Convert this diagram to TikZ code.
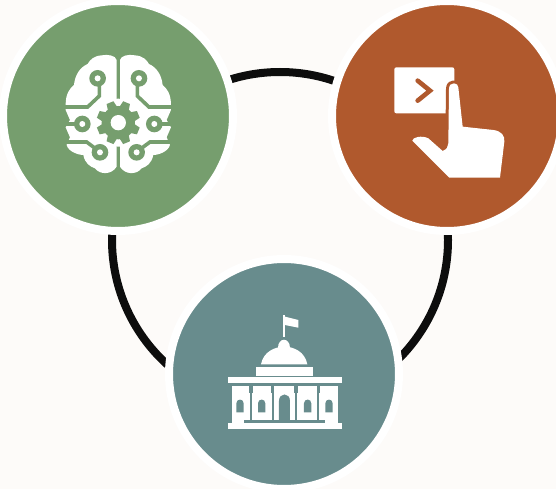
\documentclass[tikz,border=0pt]{standalone}
\definecolor{bgc}{HTML}{FDFBF9}
\definecolor{greenc}{HTML}{769E6E}
\definecolor{orangec}{HTML}{B0592D}
\definecolor{tealc}{HTML}{688C8D}
\definecolor{ringc}{HTML}{0D0D0D}
\tikzset{
  disc/.style={circle,minimum size=230pt,inner sep=0pt,outer sep=0pt,draw=white,line width=8pt},
  trace/.style={greenc,line width=3.6pt},
}
\newcommand{\brainhalf}{%
  \fill[white] (-5,60) .. controls (-8,47) and (-30,42) .. (-50,46) .. controls (-75,48) and (-85,60) .. (-92,72)
     .. controls (-115,82) and (-130,105) .. (-133,135) .. controls (-145,145) and (-158,160) .. (-158,195)
     -- (-158,210) -- (-145,240) -- (-158,262) -- (-145,292) -- (-155,315)
     .. controls (-150,335) and (-120,345) .. (-105,345) .. controls (-100,370) and (-85,380) .. (-70,385)
     .. controls (-55,405) and (-20,405) .. (-5,380) -- cycle;
  \draw[trace] (-165,201) -- (-92,201) -- (-57,168) -- (-57,125);
  \draw[trace] (-165,252) -- (-115,252);
  \draw[trace] (-165,306) -- (-95,306) -- (-60,332);
  \fill[greenc] (-62,115) circle (25);
  \fill[white] (-62,115) circle (9);
  \fill[greenc] (-108,252) circle (25);
  \fill[white] (-108,252) circle (9);
  \fill[greenc] (-55,337) circle (25);
  \fill[white] (-55,337) circle (9);
}
\begin{document}
\begin{tikzpicture}[x=1pt,y=-1pt]
\useasboundingbox (0,0) rectangle (556,489);
\fill[bgc] (0,0) rectangle (556,489);
\coordinate (hub) at (280,240);
\draw[ringc,line width=8pt] (hub) circle (168);
\begin{scope}
\clip (0,0) rectangle (556,489);
\node[disc,fill=greenc] (brain) at (118,116) {};
\node[disc,fill=orangec] (hand) at (447,116) {};
\node[disc,fill=tealc] (gov) at (284,374) {};
\end{scope}
% brain icon
\begin{scope}[shift={(118.3,40)},x=0.3333pt,y=-0.3333pt]
  \brainhalf
  \begin{scope}[xscale=-1]\brainhalf\end{scope}
  \fill[greenc] (-5,40) rectangle (5,410);
  \begin{scope}[shift={(0,248)}]
    \fill[white] (0,0) circle (72);
    \foreach \a in {0,45,...,315}{
      \fill[greenc,rotate=\a+22.5] (-15,-44) -- (-11,-65) -- (11,-65) -- (15,-44) -- cycle;
    }
    \fill[greenc] (0,0) circle (50);
    \fill[white] (0,0) circle (23);
  \end{scope}
\end{scope}
% hand icon
\begin{scope}[shift={(380,50)},x=0.3333pt,y=-0.3333pt]
  \fill[white,rounded corners=2pt] (43,52) rectangle (223,190);
  \draw[orangec,line width=4.6pt,line cap=round,line join=miter] (113,92) -- (150,122) -- (113,152);
  \path[draw=orangec,line width=6pt,line join=round]
    (222,100) .. controls (230,100) and (234,105) .. (235,112) -- (248,230) -- (340,240)
    .. controls (365,243) and (375,258) .. (373,275) -- (360,383) -- (208,383) -- (97,272)
    .. controls (97,262) and (125,255) .. (145,265) -- (188,303) .. controls (200,298) and (205,290) .. (205,280)
    -- (207,118) .. controls (207,105) and (213,100) .. (222,100) -- cycle;
  \fill[white]
    (222,100) .. controls (230,100) and (234,105) .. (235,112) -- (248,230) -- (340,240)
    .. controls (365,243) and (375,258) .. (373,275) -- (360,383) -- (208,383) -- (97,272)
    .. controls (97,262) and (125,255) .. (145,265) -- (188,303) .. controls (200,298) and (205,290) .. (205,280)
    -- (207,118) .. controls (207,105) and (213,100) .. (222,100) -- cycle;
\end{scope}
% building icon
\begin{scope}[shift={(215,305)},x=0.3333pt,y=-0.3333pt]
  \fill[white] (205,30) rectangle (211,95);
  \fill[white] (210,35) -- (250,45) -- (250,68) -- (210,60) -- cycle;
  \fill[white] (190,130) .. controls (190,95) and (225,95) .. (225,130) -- cycle;
  \fill[white] (138,178) .. controls (145,140) and (180,125) .. (208,125) .. controls (236,125) and (270,140) .. (277,178) -- cycle;
  \fill[white] (123,185) rectangle (294,212);
  \fill[white] (38,216) rectangle (380,233);
  \fill[white] (50,244) rectangle (368,355);
  \fill[white] (38,355) rectangle (380,372);
  \fill[tealc] (88,345) rectangle (330,355);
  \foreach \x in {103,168,238,305}{
    \fill[tealc] (\x,244) rectangle (\x+10,264);
    \fill[tealc] (\x+2,264) rectangle (\x+8,345);
  }
  \foreach \x in {75,140,278,342}{
    \fill[tealc] (\x-11,322) -- (\x-11,295) .. controls (\x-11,280) and (\x+11,280) .. (\x+11,295) -- (\x+11,322) -- cycle;
  }
  \fill[tealc] (192,345) -- (192,288) .. controls (192,262) and (225,262) .. (225,288) -- (225,345) -- cycle;
\end{scope}
\end{tikzpicture}
\end{document}
